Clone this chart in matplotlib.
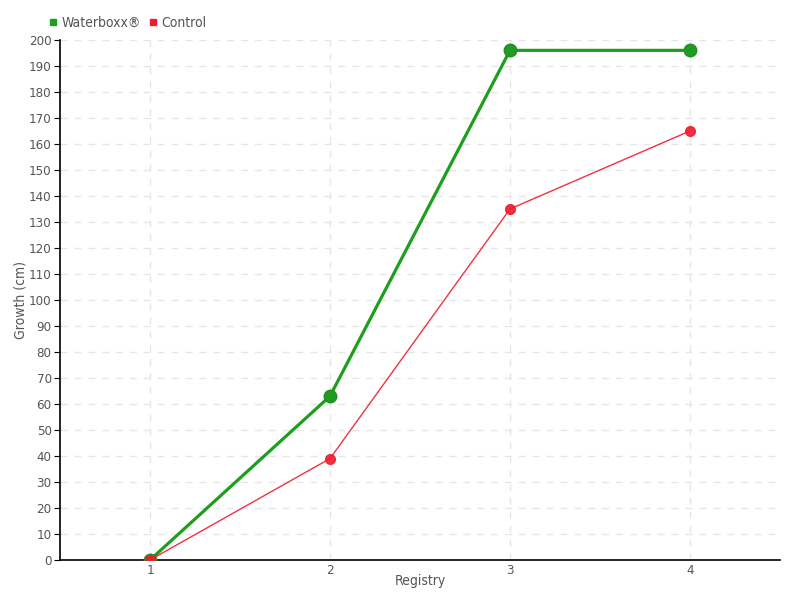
import matplotlib
matplotlib.use("Agg")
import matplotlib.pyplot as plt

registry = [1, 2, 3, 4]
waterboxx = [0, 63, 196, 196]
control = [0, 39, 135, 165]
y_ticks = list(range(0, 201, 10))

plt.rcParams["font.family"] = ["DejaVu Sans"]
plt.rcParams["font.stretch"] = "condensed"

fig = plt.figure(figsize=(8, 6), dpi=100)
ax = fig.add_axes([0.075, 0.0667, 0.9, 0.8667])

green = "#1e9e1e"
red = "#ee1c2e"

ax.plot(registry, waterboxx, color=green, lw=2.3, marker="o", ms=9,
        markeredgecolor="#2a8a2a", zorder=3, label="Waterboxx®")
ax.plot(registry, control, color=red, lw=1, marker="o", ms=7,
        markeredgecolor=red, zorder=4, alpha=0.9, label="Control")

ax.set_xlim(0.5, 4.5)
ax.set_ylim(0, 200)
ax.set_xticks(registry)
ax.set_yticks(y_ticks)
ax.tick_params(axis="both", labelsize=9.5, labelcolor="#555555")
ax.tick_params(axis="x", length=0, pad=3)
ax.tick_params(axis="y", length=4, color="black", pad=2)

ax.grid(True, linestyle=(0, (5, 5)), color="#e6e6e6", lw=1)
ax.set_axisbelow(True)
for side in ["top", "right"]:
    ax.spines[side].set_visible(False)
ax.spines["left"].set_linewidth(1.2)
ax.spines["bottom"].set_linewidth(1.2)

ax.set_xlabel("Registry", fontsize=10, color="#555555")
ax.set_ylabel("Growth (cm)", fontsize=10, color="#555555")
# place axis titles where the original puts them
ax.xaxis.set_label_coords(0.5, -0.026)
ax.yaxis.set_label_coords(-0.045, 0.5)

ax.legend(loc="lower left", bbox_to_anchor=(-0.027, 1.003), ncol=2, frameon=False,
          fontsize=10, labelcolor="#555555", handlelength=0.6, handletextpad=0.3,
          columnspacing=0.6, borderaxespad=0.2,
          handles=[
              plt.Line2D([], [], color=green, marker="s", ls="", ms=5, label="Waterboxx®"),
              plt.Line2D([], [], color=red, marker="s", ls="", ms=5, label="Control"),
          ])

fig.savefig("out.png", dpi=100)
